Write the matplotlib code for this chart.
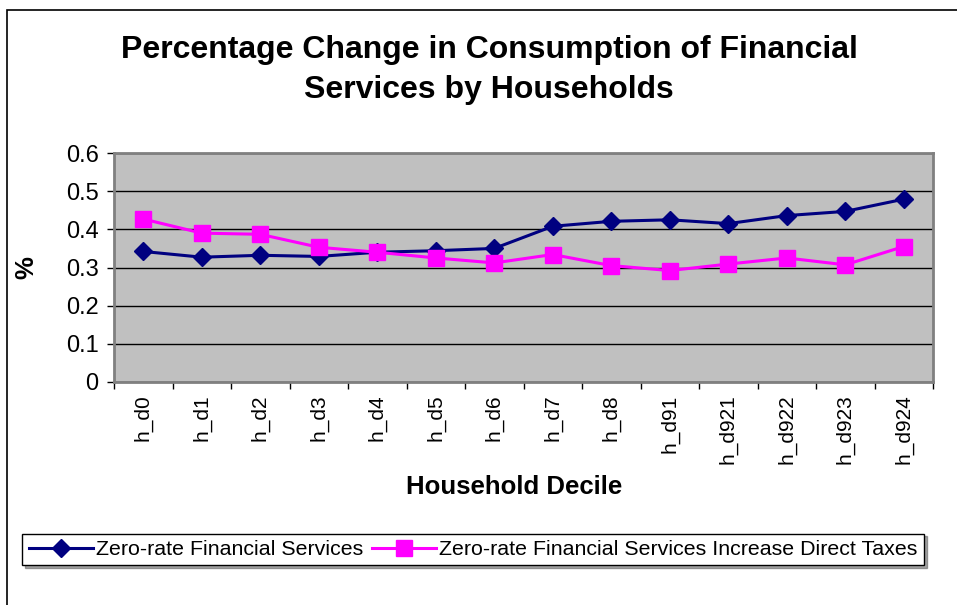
import matplotlib
matplotlib.use("Agg")
import matplotlib.pyplot as plt
from matplotlib.patches import Rectangle

plt.rcParams['font.family'] = ['Liberation Sans', 'DejaVu Sans']

deciles = ["h_d0", "h_d1", "h_d2", "h_d3", "h_d4", "h_d5", "h_d6", "h_d7",
           "h_d8", "h_d91", "h_d921", "h_d922", "h_d923", "h_d924"]
zero_rate = [0.342, 0.327, 0.332, 0.329, 0.340, 0.344, 0.350, 0.408,
             0.421, 0.425, 0.415, 0.436, 0.447, 0.479]
zero_rate_direct_tax = [0.427, 0.390, 0.387, 0.353, 0.340, 0.325, 0.312, 0.334,
                        0.305, 0.292, 0.309, 0.325, 0.307, 0.355]
y_ticks = [0, 0.1, 0.2, 0.3, 0.4, 0.5, 0.6]
y_tick_labels = ["0", "0.1", "0.2", "0.3", "0.4", "0.5", "0.6"]

W, H = 957, 605
fig = plt.figure(figsize=(W / 100, H / 100), dpi=100)
ax = fig.add_axes([114 / W, 1 - 382 / H, (933 - 114) / W, (382 - 153) / H])

# outer chart frame
fig.patches.append(Rectangle((7 / W, -0.05), 1.1, 1 - 10 / H + 0.05,
                             transform=fig.transFigure, fill=False,
                             edgecolor="black", linewidth=1.2))

ax.set_facecolor("#C0C0C0")
x = list(range(len(deciles)))
ax.plot(x, zero_rate, color="#000080", linewidth=2.2, marker="D",
        markersize=9.5, label="Zero-rate Financial Services", zorder=3)
ax.plot(x, zero_rate_direct_tax, color="#FF00FF", linewidth=2.2, marker="s",
        markersize=11.5, label="Zero-rate Financial Services Increase Direct Taxes",
        zorder=3)

ax.set_xlim(-0.5, len(deciles) - 0.5)
ax.set_ylim(0, 0.6)
ax.set_yticks(y_ticks)
ax.set_yticklabels(y_tick_labels, fontsize=17)
ax.yaxis.grid(True, color="black", linewidth=1)
ax.set_axisbelow(True)

ax.set_xticks([i - 0.5 for i in range(len(deciles) + 1)])
ax.set_xticklabels([])
ax.set_xticks(x, minor=True)
ax.set_xticklabels(deciles, minor=True, rotation=90, fontsize=15)
ax.tick_params(axis="x", which="minor", length=0, pad=9)
ax.tick_params(axis="x", which="major", length=5, width=1, direction="out")
ax.tick_params(axis="y", length=5, width=1, direction="out", pad=6)

for side in ["left", "bottom", "top", "right"]:
    ax.spines[side].set_color("#808080")
    ax.spines[side].set_linewidth(2)

ax.set_ylabel("%", fontsize=18.5, fontweight="bold", labelpad=20)
ax.set_xlabel("Household Decile", fontsize=18.5, fontweight="bold", labelpad=8)
ax.xaxis.label.set_x(0.488)

fig.text(489 / W, 1 - 70 / H,
         "Percentage Change in Consumption of Financial\nServices by Households",
         ha="center", va="center", fontsize=23, fontweight="bold",
         linespacing=1.45)

leg = fig.legend(loc="center", bbox_to_anchor=(473 / W, 1 - 549.5 / H), ncol=2,
                 fontsize=15.4, frameon=True, fancybox=False, shadow=True,
                 edgecolor="black", handlelength=3.0, handletextpad=0.15,
                 columnspacing=0.4, borderpad=0.3)
leg.get_frame().set_linewidth(1)

fig.savefig("out.png", dpi=100)
